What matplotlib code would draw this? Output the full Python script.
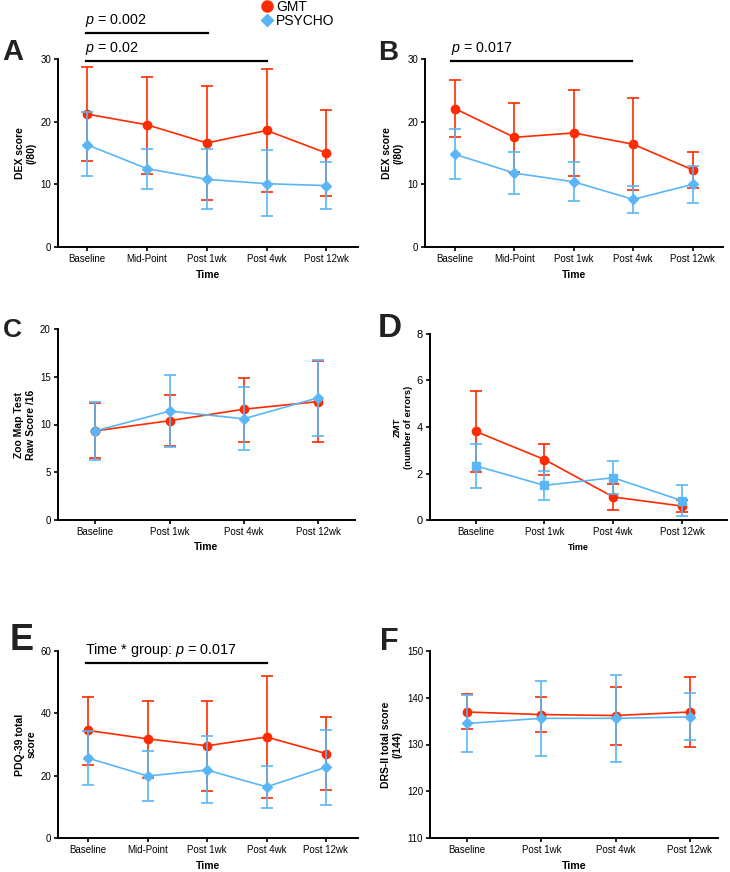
import matplotlib
matplotlib.use("Agg")
import matplotlib.pyplot as plt
from matplotlib.lines import Line2D
import numpy as np

plt.rcParams['font.family'] = ['Liberation Sans', 'DejaVu Sans']
plt.rcParams['mathtext.fontset'] = 'custom'
plt.rcParams['mathtext.rm'] = 'Liberation Sans'
plt.rcParams['mathtext.it'] = 'Liberation Sans:italic'

RED = '#FF2A00'
BLUE = '#5AB6F6'

# categories
times5 = ['Baseline', 'Mid-Point', 'Post 1wk', 'Post 4wk', 'Post 12wk']
times4 = ['Baseline', 'Post 1wk', 'Post 4wk', 'Post 12wk']

# A - DEX score (self)
a_gmt = [21.2, 19.5, 16.6, 18.6, 15.0]
a_gmt_lo = [13.7, 11.7, 7.5, 8.8, 8.1]
a_gmt_hi = [28.7, 27.2, 25.7, 28.4, 21.9]
a_psy = [16.3, 12.5, 10.8, 10.1, 9.8]
a_psy_lo = [11.3, 9.3, 6.05, 4.9, 6.1]
a_psy_hi = [21.5, 15.7, 15.6, 15.5, 13.5]

# B - DEX score (other)
b_gmt = [22.1, 17.5, 18.2, 16.4, 12.3]
b_gmt_lo = [17.6, 12.0, 11.4, 9.1, 9.4]
b_gmt_hi = [26.7, 22.9, 25.0, 23.7, 15.1]
b_psy = [14.8, 11.8, 10.4, 7.6, 10.0]
b_psy_lo = [10.8, 8.4, 7.3, 5.4, 7.1]
b_psy_hi = [18.9, 15.2, 13.5, 9.8, 13.0]

# C - Zoo Map raw score
c_gmt = [9.33, 10.4, 11.6, 12.4]
c_gmt_lo = [6.45, 7.7, 8.2, 8.2]
c_gmt_hi = [12.2, 13.1, 14.9, 16.6]
c_psy = [9.33, 11.4, 10.6, 12.8]
c_psy_lo = [6.24, 7.67, 7.3, 8.8]
c_psy_hi = [12.4, 15.2, 13.9, 16.8]

# D - ZMT errors
d_gmt = [3.81, 2.6, 0.99, 0.6]
d_gmt_lo = [2.05, 1.92, 0.43, 0.34]
d_gmt_hi = [5.55, 3.28, 1.55, 0.86]
d_psy = [2.33, 1.49, 1.82, 0.83]
d_psy_lo = [1.37, 0.86, 1.13, 0.17]
d_psy_hi = [3.28, 2.1, 2.52, 1.49]

# E - PDQ-39
e_gmt = [34.5, 31.8, 29.6, 32.4, 27.1]
e_gmt_lo = [23.5, 19.3, 15.2, 12.8, 15.3]
e_gmt_hi = [45.1, 44.1, 44.0, 51.9, 38.9]
e_psy = [25.6, 19.9, 21.8, 16.4, 22.7]
e_psy_lo = [17.0, 12.0, 11.1, 9.7, 10.6]
e_psy_hi = [34.4, 27.9, 32.7, 23.0, 34.7]

# F - DRS-II
f_gmt = [136.95, 136.4, 136.2, 136.95]
f_gmt_lo = [133.4, 132.6, 129.9, 129.4]
f_gmt_hi = [140.7, 140.2, 142.4, 144.5]
f_psy = [134.5, 135.6, 135.6, 135.9]
f_psy_lo = [128.4, 127.5, 126.25, 131.0]
f_psy_hi = [140.5, 143.5, 144.85, 141.0]

W, H = 730, 872
fig = plt.figure(figsize=(W / 100, H / 100), dpi=100)


def add_ax(left, top, right, bottom):
    return fig.add_axes([left / W, 1 - bottom / H, (right - left) / W, (bottom - top) / H])


def draw(ax, cats, gmt, glo, ghi, psy, plo, phi, psy_marker, ylim, yticks, xlim,
         ylabel, ylab_size=7.5, tick_size=7, time_size=7.5, labelpad=3):
    x = np.arange(len(cats))
    gmt = np.array(gmt); psy = np.array(psy)
    gerr = [gmt - np.array(glo), np.array(ghi) - gmt]
    perr = [psy - np.array(plo), np.array(phi) - psy]
    ax.errorbar(x, gmt, yerr=gerr, color=RED, marker='o', markersize=6, lw=1.2,
                elinewidth=1.2, capsize=4, capthick=1.2, clip_on=False, zorder=3)
    ms = 5.5 if psy_marker == 's' else 5
    ax.errorbar(x, psy, yerr=perr, color=BLUE, marker=psy_marker, markersize=ms, lw=1.2,
                elinewidth=1.2, capsize=4, capthick=1.2, clip_on=False, zorder=4)
    ax.set_xlim(*xlim)
    ax.set_ylim(*ylim)
    ax.set_yticks(yticks)
    ax.set_xticks(x)
    ax.set_xticklabels(cats)
    for s in ['top', 'right']:
        ax.spines[s].set_visible(False)
    for s in ['left', 'bottom']:
        ax.spines[s].set_linewidth(1.4)
    ax.tick_params(direction='out', length=3, width=1.2, labelsize=tick_size, pad=2)
    ax.set_xlabel('Time', fontsize=time_size, fontweight='bold', labelpad=4)
    ax.set_ylabel(ylabel, fontsize=ylab_size, fontweight='bold', labelpad=labelpad)


axA = add_ax(58, 59, 358, 247)
draw(axA, times5, a_gmt, a_gmt_lo, a_gmt_hi, a_psy, a_psy_lo, a_psy_hi, 'D',
     (0, 30), [0, 10, 20, 30], (-0.49, 4.53), 'DEX score\n(/80)')
axA.plot([-0.02, 2.02], [34.2, 34.2], color='black', lw=1.6, clip_on=False)
axA.plot([-0.02, 3.0], [29.7, 29.7], color='black', lw=1.6, clip_on=False)
axA.text(-0.04, 36.1, '$p$ = 0.002', fontsize=10.3, ha='left', va='center')
axA.text(-0.04, 31.75, '$p$ = 0.02', fontsize=10.3, ha='left', va='center')

axB = add_ax(425, 59, 723, 247)
draw(axB, times5, b_gmt, b_gmt_lo, b_gmt_hi, b_psy, b_psy_lo, b_psy_hi, 'D',
     (0, 30), [0, 10, 20, 30], (-0.5, 4.51), 'DEX score\n(/80)')
axB.plot([-0.06, 2.98], [29.7, 29.7], color='black', lw=1.6, clip_on=False)
axB.text(-0.06, 31.7, '$p$ = 0.017', fontsize=10.3, ha='left', va='center')

axC = add_ax(57.7, 329, 355, 520)
draw(axC, times4, c_gmt, c_gmt_lo, c_gmt_hi, c_psy, c_psy_lo, c_psy_hi, 'D',
     (0, 20), [0, 5, 10, 15, 20], (-0.506, 3.495), 'Zoo Map Test\nRaw Score /16')

axD = add_ax(430, 334, 726.7, 520)
draw(axD, times4, d_gmt, d_gmt_lo, d_gmt_hi, d_psy, d_psy_lo, d_psy_hi, 's',
     (0, 8), [0, 2, 4, 6, 8], (-0.664, 3.65), 'ZMT\n(number of errors)',
     ylab_size=6.8, tick_size=7, time_size=6.5)
axD.tick_params(axis='y', labelsize=8)

axE = add_ax(58.3, 651, 358, 838)
draw(axE, times5, e_gmt, e_gmt_lo, e_gmt_hi, e_psy, e_psy_lo, e_psy_hi, 'D',
     (0, 60), [0, 20, 40, 60], (-0.505, 4.54), 'PDQ-39 total\nscore')
axE.plot([-0.04, 3.0], [56.05, 56.05], color='black', lw=1.6, clip_on=False)
axE.text(-0.06, 60.3, 'Time * group: $p$ = 0.017', fontsize=10.4, ha='left', va='center')

axF = add_ax(430, 651, 718, 838)
draw(axF, times4, f_gmt, f_gmt_lo, f_gmt_hi, f_psy, f_psy_lo, f_psy_hi, 'D',
     (110, 150), [110, 120, 130, 140, 150], (-0.503, 3.38), 'DRS-II total score\n(/144)',
     time_size=7.7)

# panel letters
letters = [('A', 2, 60, 21), ('B', 378, 60, 20), ('C', 3, 336.7, 19),
           ('D', 378, 336.7, 24), ('E', 10, 650, 26), ('F', 380, 650, 22)]
for lab, lx, ly, size in letters:
    fig.text(lx / W, 1 - ly / H, lab, fontsize=size, fontweight='bold',
             ha='left', va='baseline', color='#222222')

# legend
handles = [Line2D([], [], color=RED, marker='o', linestyle='None', markersize=8),
           Line2D([], [], color=BLUE, marker='D', linestyle='None', markersize=6.5)]
fig.legend(handles, ['GMT', 'PSYCHO'], loc='upper left', bbox_to_anchor=(261 / W, 1.0),
           frameon=False, fontsize=10, handlelength=0.8, handletextpad=0.3,
           labelspacing=0.0, borderpad=0, borderaxespad=0)

fig.savefig('out.png', dpi=100)
